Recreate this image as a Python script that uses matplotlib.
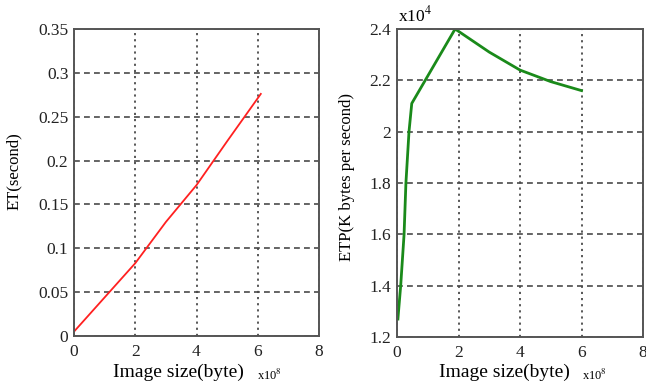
import matplotlib
matplotlib.use("Agg")
import matplotlib.pyplot as plt

plt.rcParams['font.family'] = ['Liberation Serif', 'DejaVu Serif']
plt.rcParams['mathtext.fontset'] = 'stix'

# Left panel: execution time
et_x = [0, 1, 2, 3, 4, 5, 6.1]
et_y = [0.005, 0.044, 0.083, 0.13, 0.172, 0.222, 0.276]

# Right panel: throughput (x1e4)
etp_x = [0.03, 0.05, 0.12, 0.23, 0.29, 0.39, 0.48, 1.89, 3.0, 4.0, 5.0, 6.0]
etp_y = [1.27, 1.3, 1.4, 1.6, 1.8, 2.0, 2.11, 2.4, 2.31, 2.24, 2.195, 2.16]

xticks = [0, 2, 4, 6, 8]
left_yticks = [0, 0.05, 0.1, 0.15, 0.2, 0.25, 0.3, 0.35]
left_ylabels = ['0', '0.05', '0.1', '0.15', '0.2', '0.25', '0.3', '0.35']
right_yticks = [1.2, 1.4, 1.6, 1.8, 2.0, 2.2, 2.4]
right_ylabels = ['1.2', '1.4', '1.6', '1.8', '2', '2.2', '2.4']

W, H = 646, 385
fig = plt.figure(figsize=(W / 100, H / 100), dpi=100)

def style(ax):
    for s in ax.spines.values():
        s.set_color('#555555')
        s.set_linewidth(1.4)
    ax.tick_params(length=0, labelsize=12.5, colors='#222222', pad=4)
    ax.tick_params(axis='x', pad=6)
    ax.xaxis.grid(True, linestyle=(0, (1.2, 2.2)), color='#4a4a4a', linewidth=1.3)
    ax.yaxis.grid(True, linestyle=(0, (3.5, 2.5)), color='#4a4a4a', linewidth=1.2)
    ax.set_axisbelow(True)

ax1 = fig.add_axes([74 / W, (H - 336) / H, 245 / W, 307 / H])
ax1.plot(et_x, et_y, color='#ff2020', linewidth=1.3)
ax1.set_xlim(0, 8)
ax1.set_ylim(0, 0.35)
ax1.set_xticks(xticks)
ax1.set_yticks(left_yticks)
ax1.set_yticklabels(left_ylabels)
style(ax1)
ax1.set_ylabel('ET(second)', fontsize=12)
ax1.yaxis.set_label_coords(-0.212, 0.537)

ax2 = fig.add_axes([397 / W, (H - 337) / H, 246 / W, 308 / H])
ax2.plot(etp_x, etp_y, color='#1a8a1a', linewidth=2)
ax2.set_xlim(0, 8)
ax2.set_ylim(1.2, 2.4)
ax2.set_xticks(xticks)
ax2.set_yticks(right_yticks)
ax2.set_yticklabels(right_ylabels)
style(ax2)
ax2.set_ylabel('ETP(K bytes per second)', fontsize=12)
ax2.yaxis.set_label_coords(-0.171, 0.52)

# x labels with multipliers
fig.text(178 / W, 1 - 372 / H, 'Image size(byte)', fontsize=14, ha='center', va='center')
fig.text(257 / W, 1 - 375 / H, r'x10$^{8}$', fontsize=9, ha='left', va='center')
fig.text(504 / W, 1 - 372 / H, 'Image size(byte)', fontsize=14, ha='center', va='center')
fig.text(582 / W, 1 - 375 / H, r'x10$^{8}$', fontsize=9, ha='left', va='center')
fig.text(398 / W, 1 - 15 / H, r'x10$^{4}$', fontsize=12.5, ha='left', va='center')

fig.savefig('out.png', dpi=100)
